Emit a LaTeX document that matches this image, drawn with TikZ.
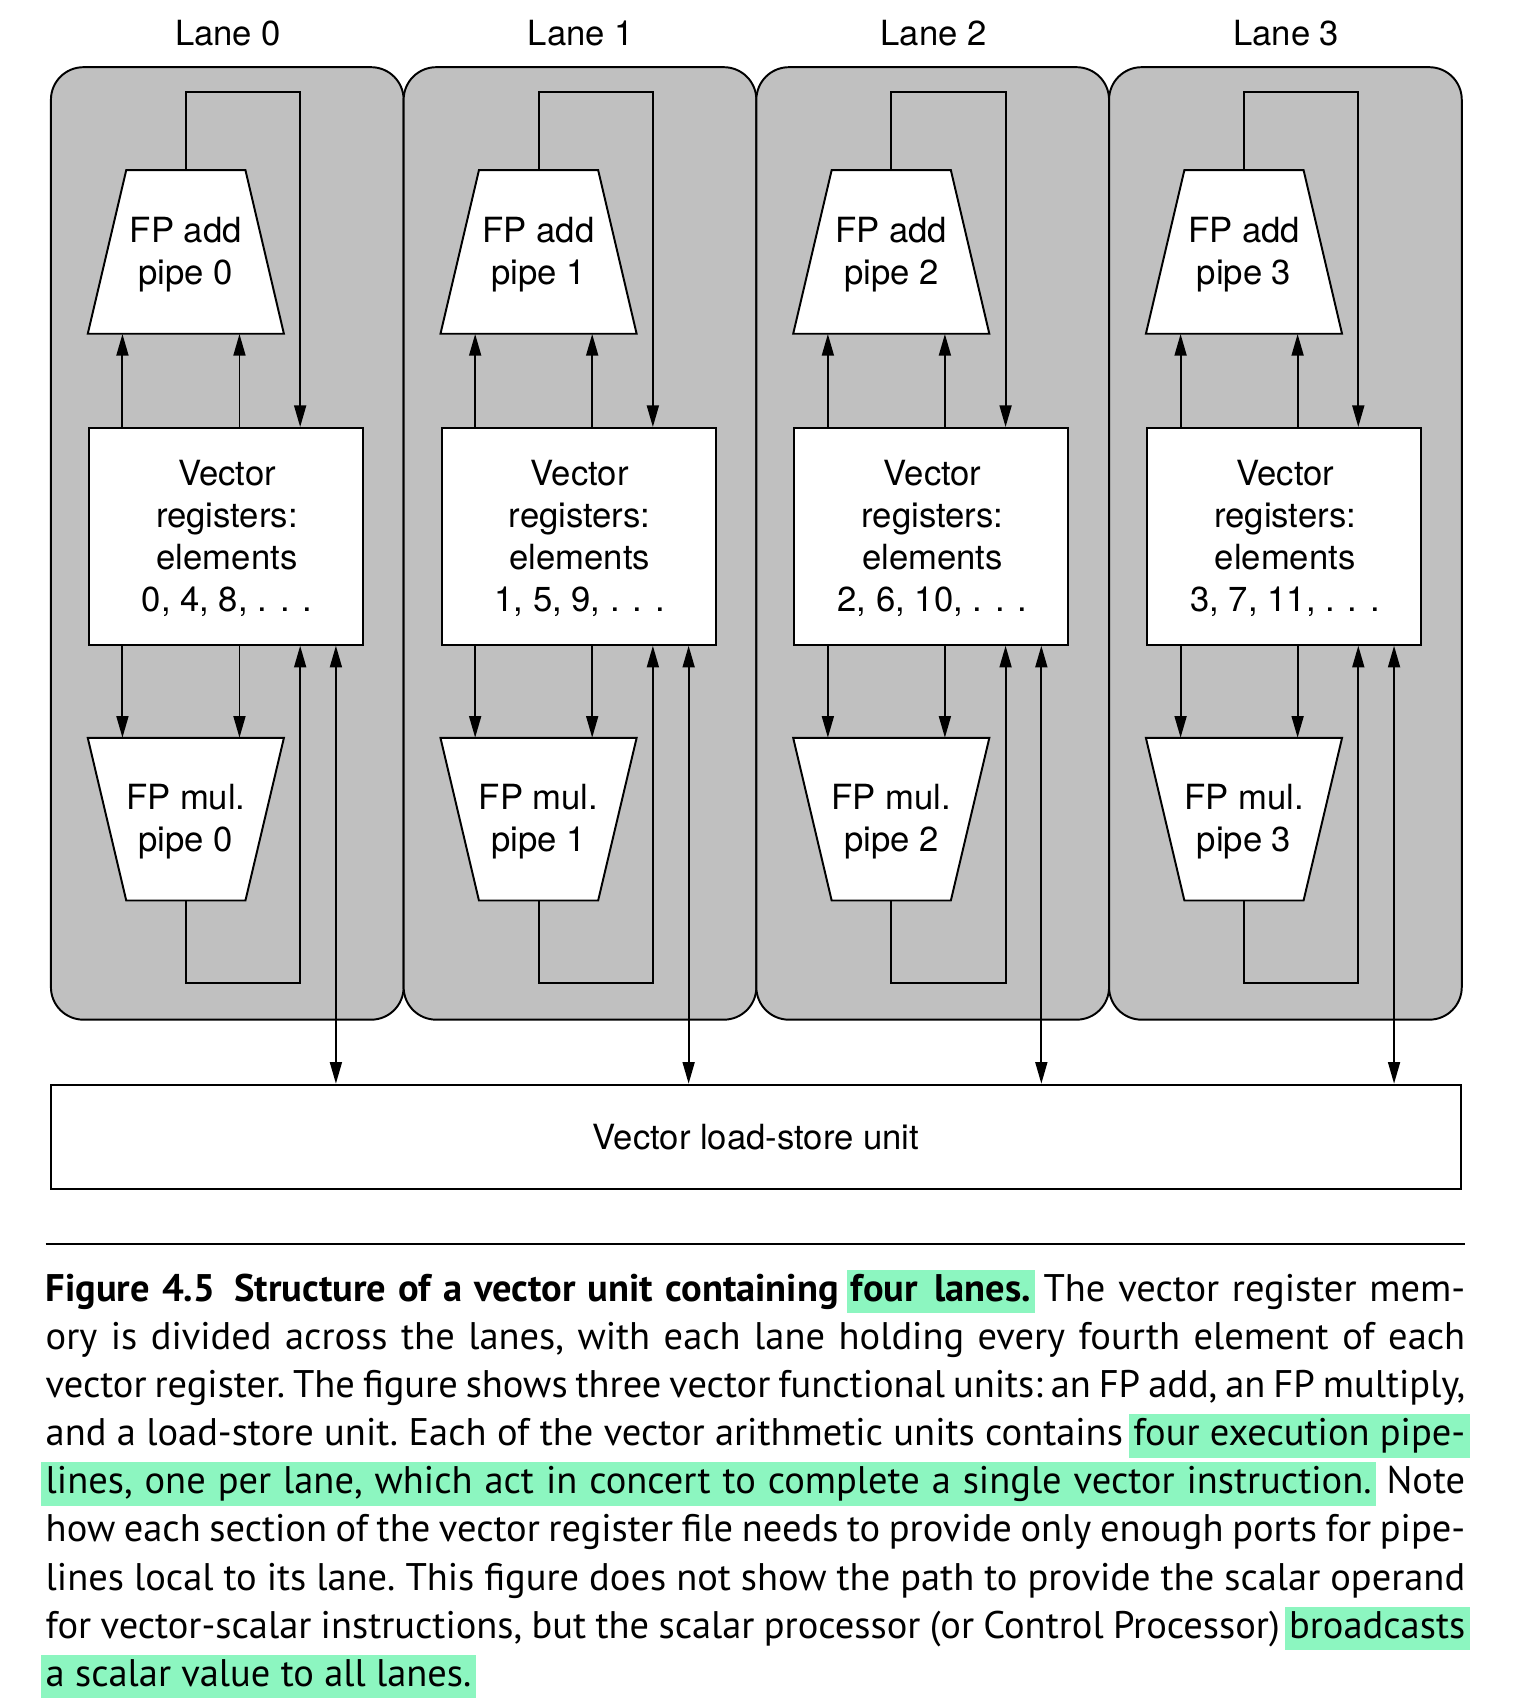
\documentclass[tikz,border=0pt]{standalone}
\usepackage{fontspec}
\setmainfont{TeX Gyre Heros}
\newfontfamily\capfont{PT Sans}
\usetikzlibrary{arrows.meta}
\definecolor{lanegray}{RGB}{192,192,192}
\definecolor{hlgreen}{RGB}{140,246,192}
\newcommand{\difont}{\fontsize{32pt}{38.7pt}\selectfont}
\newcommand{\cfont}{\capfont\fontsize{35.5pt}{44.4pt}\selectfont\frenchspacing}
\newcommand{\hlt}[2][0pt]{\setbox0\hbox spread #1{#2}\leavevmode\rlap{\kern-4pt\textcolor{hlgreen}{\rule[-11pt]{\dimexpr\wd0+8pt\relax}{40pt}}}\box0\relax}
\begin{document}
\begin{tikzpicture}[x=1pt,y=-1pt,
  lanebox/.style={draw=black,fill=lanegray,line width=1.8pt,rounded corners=30pt,
    minimum width=325.5pt,minimum height=879pt,inner sep=0pt},
  lanelabel/.style={font=\difont,inner sep=0pt},
  pipeshape/.style={draw=black,fill=white,line width=1.8pt,line join=miter},
  pipeframe/.style={minimum width=181pt,minimum height=151pt,inner sep=0pt},
  boxtext/.style={inner sep=0pt,align=center,font=\difont},
  regbox/.style={draw=black,fill=white,line width=1.8pt,minimum width=253pt,
    minimum height=200pt,inner sep=0pt},
  lsubox/.style={draw=black,fill=white,line width=1.8pt,minimum width=1301pt,
    minimum height=96pt,inner sep=0pt,font=\difont},
  wire/.style={line width=1.8pt},
  arr/.style={wire,-{Triangle[length=20pt,width=11pt]}},
  darr/.style={wire,{Triangle[length=20pt,width=11pt]}-{Triangle[length=20pt,width=11pt]}},
  capline/.style={anchor=base west,inner sep=0pt}
]
\useasboundingbox (0,0) rectangle (1410,1567);
\fill[white] (0,0) rectangle (1410,1567);

\node[lsubox] (lsu) at (697.5,1049) {Vector load-store unit};

\foreach \i/\els in {0/{0, 4, 8},1/{1, 5, 9},2/{2, 6, 10},3/{3, 7, 11}}{
  \pgfmathsetmacro\dx{325.5*\i}
  \node[lanebox] (lane\i) at (209.75+\dx,501.5) {};
  \node[lanelabel] (lab\i) at (210.5+\dx,31) {Lane \i};
  \path[pipeshape] (81+\dx,308) -- (262+\dx,308) -- (226.5+\dx,157) -- (116.5+\dx,157) -- cycle;
  \node[pipeframe] (add\i) at (171.5+\dx,232.5) {};
  \node[boxtext] (addt\i) at (171.5+\dx,235) {FP add\\pipe \i};
  \node[regbox] (reg\i) at (208.5+\dx,495) {};
  \node[boxtext] (regt\i) at (209.5+\dx,497) {Vector\\registers:\\elements\\\els, . . .};
  \path[pipeshape] (81+\dx,681) -- (262+\dx,681) -- (226.5+\dx,831) -- (116.5+\dx,831) -- cycle;
  \node[pipeframe,minimum height=150pt] (mul\i) at (171.5+\dx,756) {};
  \node[boxtext] (mult\i) at (171.5+\dx,758) {FP mul.\\pipe \i};
  \coordinate (ta\i) at (277+\dx,85);
  \coordinate (tb\i) at (277+\dx,907);
  \coordinate (pa\i) at (113+\dx,0);
  \coordinate (pb\i) at (221+\dx,0);
  \coordinate (ls\i) at (310+\dx,0);
}
\foreach \i in {0,...,3}{
  \draw[arr] (add\i.north) |- (ta\i) -- (reg\i.north -| ta\i);
  \draw[arr] (reg\i.north -| pa\i) -- (add\i.south -| pa\i);
  \draw[arr] (reg\i.north -| pb\i) -- (add\i.south -| pb\i);
  \draw[arr] (reg\i.south -| pa\i) -- (mul\i.north -| pa\i);
  \draw[arr] (reg\i.south -| pb\i) -- (mul\i.north -| pb\i);
  \draw[arr] (mul\i.south) |- (tb\i) -- (reg\i.south -| tb\i);
  \draw[darr] (reg\i.south -| ls\i) -- (lsu.north -| ls\i);
}

\coordinate (rl) at (42,1148);
\coordinate (rr) at (1352,1148);
\draw[line width=2pt] (rl) -- (rr);

\node[capline] (c1) at (42,1201) {\cfont\hbox to 1310pt{{\bfseries Figure 4.5\hskip0.5em Structure of a vector unit containing \hlt[6pt]{four lanes.}} The vector register mem-}};
\node[capline] (c2) at (42,1245.4) {\cfont\hbox to 1310pt{ory is divided across the lanes, with each lane holding every fourth element of each}};
\node[capline] (c3) at (42,1289.8) {\cfont\hbox to 1310pt{vector register. The figure shows three vector functional units: an FP add, an FP multiply,}};
\node[capline] (c4) at (42,1334.2) {\cfont\hbox to 1310pt{and a load-store unit. Each of the vector arithmetic units contains \hlt{four execution pipe-}}};
\node[capline] (c5) at (42,1378.6) {\cfont\hbox to 1310pt{\hlt[20pt]{lines, one per lane, which act in concert to complete a single vector instruction.} Note}};
\node[capline] (c6) at (42,1423.0) {\cfont\hbox to 1310pt{how each section of the vector register file needs to provide only enough ports for pipe-}};
\node[capline] (c7) at (42,1467.4) {\cfont\hbox to 1310pt{lines local to its lane. This figure does not show the path to provide the scalar operand}};
\node[capline] (c8) at (42,1511.8) {\cfont\hbox to 1310pt{for vector-scalar instructions, but the scalar processor (or Control Processor) \hlt{broadcasts}}};
\node[capline] (c9) at (42,1556.2) {\cfont\hlt{a scalar value to all lanes.}};
\end{tikzpicture}
\end{document}
